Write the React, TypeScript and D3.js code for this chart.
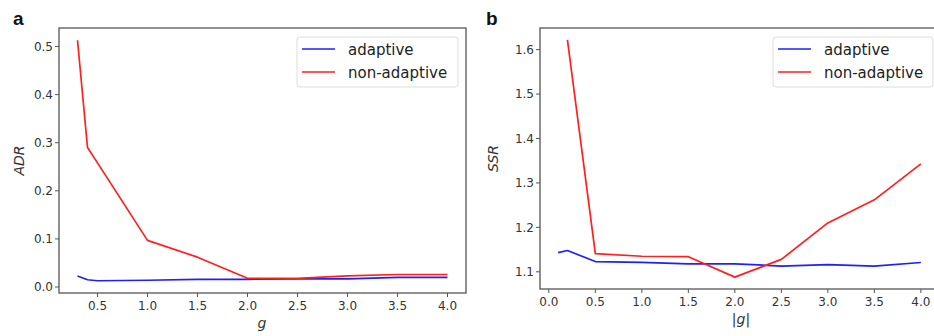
import React from "react";
import * as d3 from "d3";

const adrX = [0.3, 0.4, 0.5, 1.0, 1.5, 2.0, 2.5, 3.0, 3.5, 4.0];
const adrAdaptive = [0.023, 0.015, 0.013, 0.014, 0.016, 0.016, 0.017, 0.017, 0.02, 0.02];
const adrNonAdaptive = [0.513, 0.29, 0.258, 0.097, 0.062, 0.018, 0.018, 0.023, 0.026, 0.026];

const ssrXAdaptive = [0.1, 0.2, 0.5, 1.0, 1.5, 2.0, 2.5, 3.0, 3.5, 4.0];
const ssrAdaptive = [1.143, 1.148, 1.123, 1.121, 1.118, 1.118, 1.113, 1.116, 1.113, 1.121];
const ssrXNonAdaptive = [0.2, 0.5, 1.0, 1.5, 2.0, 2.5, 3.0, 3.5, 4.0];
const ssrNonAdaptive = [1.622, 1.141, 1.135, 1.134, 1.088, 1.128, 1.21, 1.262, 1.343];

const adrXTicks = [0.5, 1.0, 1.5, 2.0, 2.5, 3.0, 3.5, 4.0];
const adrYTicks = [0.0, 0.1, 0.2, 0.3, 0.4, 0.5];
const ssrXTicks = [0.0, 0.5, 1.0, 1.5, 2.0, 2.5, 3.0, 3.5, 4.0];
const ssrYTicks = [1.1, 1.2, 1.3, 1.4, 1.5, 1.6];

const seriesNames = ["adaptive", "non-adaptive"];
const seriesColors = ["#1f1fff", "#ff1f1f"];

const FONT = "DejaVu Sans, sans-serif";
const TEXT = "#333";
const FRAME = "#555";

type Series = { xs: number[]; ys: number[]; color: string };

function Panel(props: {
  left: number; right: number; top: number; bottom: number;
  xDomain: [number, number]; yDomain: [number, number];
  xTicks: number[]; yTicks: number[];
  series: Series[]; xLabel: string; yLabel: string; letter: string;
  letterX: number; yLabelX: number; xLabelX: number;
  legendX: number; legendW: number;
}) {
  const p = props;
  const x = d3.scaleLinear().domain(p.xDomain).range([p.left, p.right]);
  const y = d3.scaleLinear().domain(p.yDomain).range([p.bottom, p.top]);
  const line = d3.line<[number, number]>().x(d => x(d[0])).y(d => y(d[1]));
  return (
    <g>
      <text x={p.letterX} y={25} fontFamily="Liberation Sans, Arial, sans-serif" fontSize={19} fontWeight={600} fill="#111">{p.letter}</text>
      {p.series.map((s, i) => (
        <path key={i} d={line(s.xs.map((v, j) => [v, s.ys[j]] as [number, number])) || ""}
          fill="none" stroke={s.color} strokeWidth={1.7} strokeLinejoin="round" />
      ))}
      <rect x={p.left} y={p.top} width={p.right - p.left} height={p.bottom - p.top}
        fill="none" stroke={FRAME} strokeWidth={1.3} />
      {p.xTicks.map(t => (
        <g key={"x" + t}>
          <line x1={x(t)} x2={x(t)} y1={p.bottom} y2={p.bottom + 4} stroke={FRAME} strokeWidth={1} />
          <text x={x(t)} y={p.bottom + 17} textAnchor="middle" fontFamily={FONT} fontSize={12} fill={TEXT}>{t.toFixed(1)}</text>
        </g>
      ))}
      {p.yTicks.map(t => (
        <g key={"y" + t}>
          <line x1={p.left - 4} x2={p.left} y1={y(t)} y2={y(t)} stroke={FRAME} strokeWidth={1} />
          <text x={p.left - 6} y={y(t) + 4.3} textAnchor="end" fontFamily={FONT} fontSize={12} fill={TEXT}>{t.toFixed(1)}</text>
        </g>
      ))}
      <text x={p.xLabelX} y={p.bottom + 35} textAnchor="middle"
        fontFamily={FONT} fontSize={14} fill={TEXT}>
        {p.xLabel === "|g|" ? (<><tspan>|</tspan><tspan fontStyle="italic">g</tspan><tspan>|</tspan></>) : (<tspan fontStyle="italic">{p.xLabel}</tspan>)}
      </text>
      <text transform={`translate(${p.yLabelX},${(p.top + p.bottom) / 2}) rotate(-90)`} textAnchor="middle"
        fontFamily={FONT} fontSize={14} fontStyle="italic" fill={TEXT}>{p.yLabel}</text>
      <rect x={p.legendX} y={p.top + 9} width={p.legendW} height={50} rx={3}
        fill="#fff" fillOpacity={0.8} stroke="#ddd" strokeWidth={1} />
      {seriesNames.map((n, i) => (
        <g key={n}>
          <line x1={p.legendX + 5} x2={p.legendX + 38} y1={p.top + 21 + i * 23} y2={p.top + 21 + i * 23}
            stroke={seriesColors[i]} strokeWidth={1.7} />
          <text x={p.legendX + 51} y={p.top + 26.5 + i * 23} fontFamily={FONT} fontSize={15} fill="#222">{n}</text>
        </g>
      ))}
    </g>
  );
}

export default function App() {
  return (
    <svg width={934} height={336} style={{ position: "absolute", left: 0, top: 0, background: "#fff" }}>
      <Panel left={59} right={466} top={28} bottom={293}
        xDomain={[0.115, 4.185]} yDomain={[-0.0125, 0.5385]}
        xTicks={adrXTicks} yTicks={adrYTicks}
        series={[
          { xs: adrX, ys: adrAdaptive, color: seriesColors[0] },
          { xs: adrX, ys: adrNonAdaptive, color: seriesColors[1] },
        ]}
        xLabel="g" yLabel="ADR" letter="a" letterX={13} yLabelX={24} xLabelX={262}
        legendX={297} legendW={161} />
      <Panel left={540} right={939} top={28} bottom={289}
        xDomain={[-0.095, 4.195]} yDomain={[1.0613, 1.6487]}
        xTicks={ssrXTicks} yTicks={ssrYTicks}
        series={[
          { xs: ssrXAdaptive, ys: ssrAdaptive, color: seriesColors[0] },
          { xs: ssrXNonAdaptive, ys: ssrNonAdaptive, color: seriesColors[1] },
        ]}
        xLabel="|g|" yLabel="SSR" letter="b" letterX={486} yLabelX={498} xLabelX={741}
        legendX={773} legendW={160} />
    </svg>
  );
}
